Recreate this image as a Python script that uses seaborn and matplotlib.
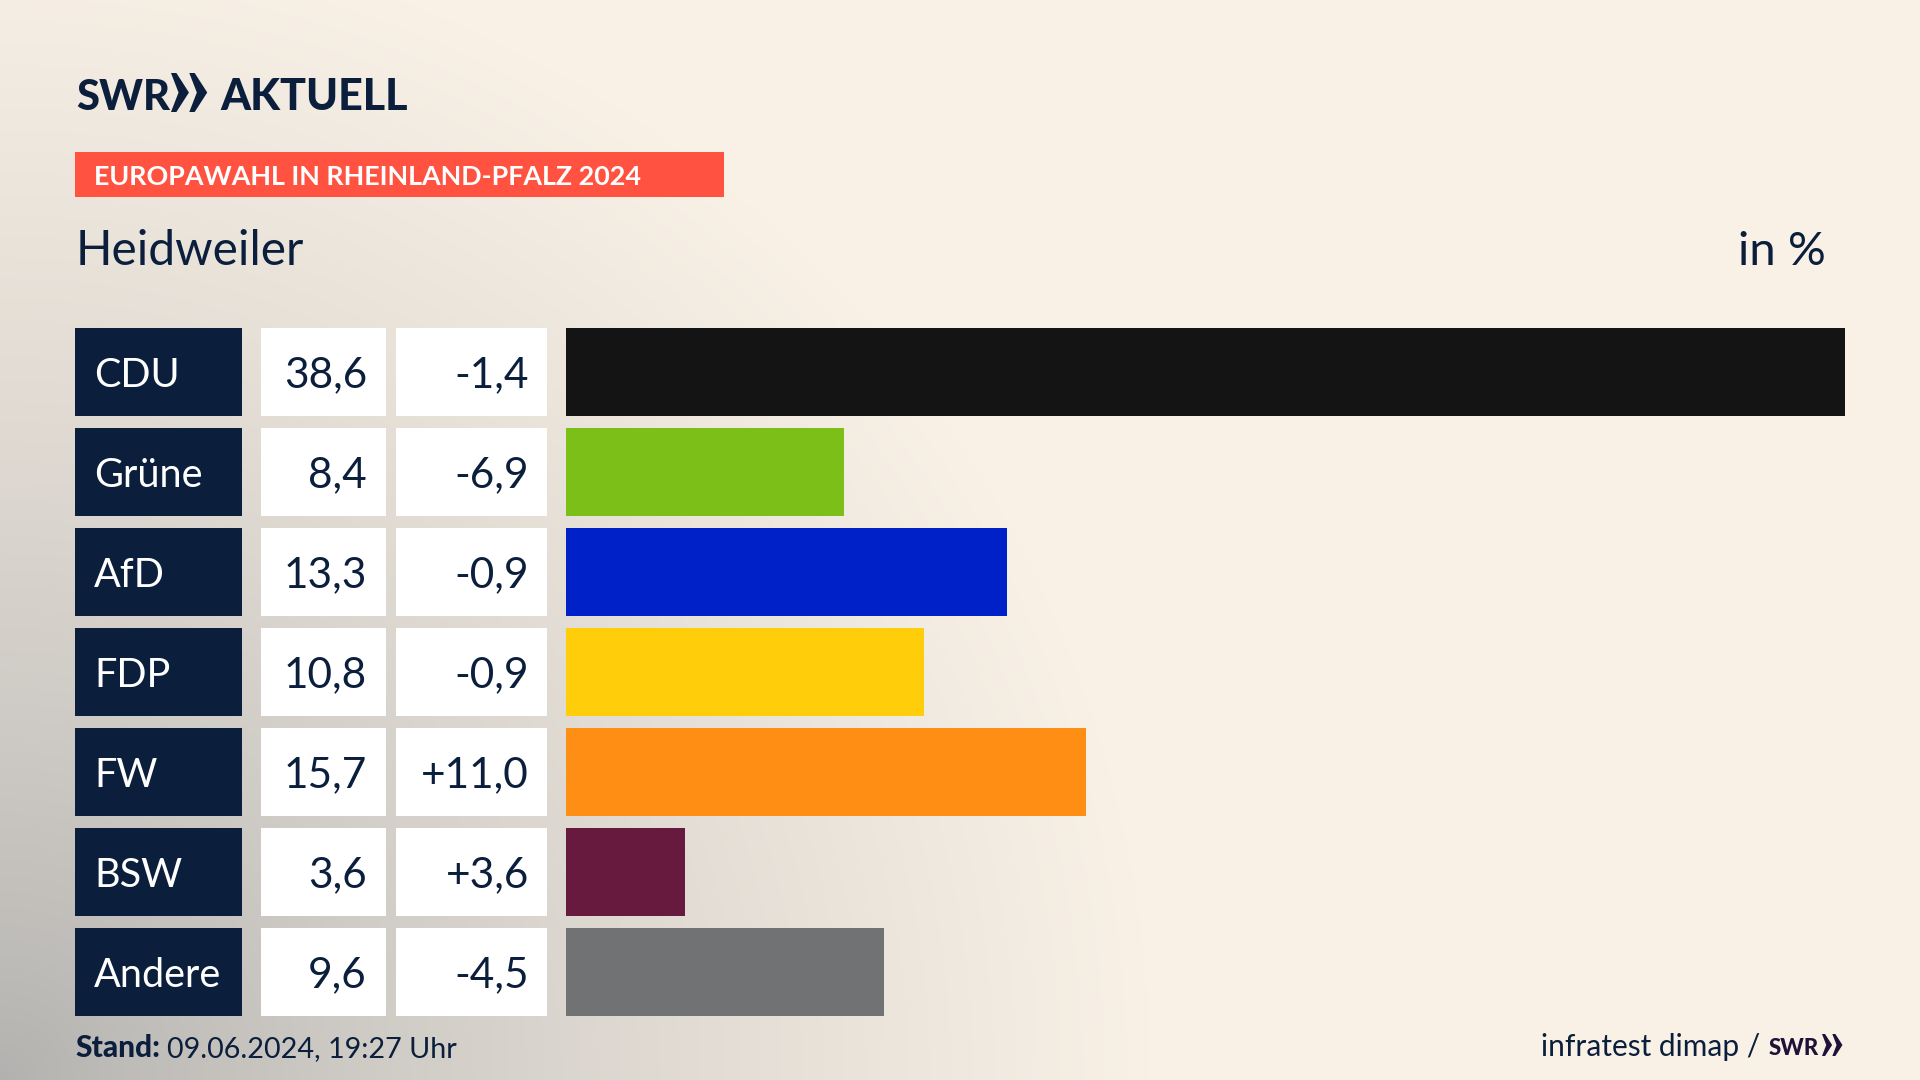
import numpy as np
import pandas as pd
import seaborn as sns
import matplotlib.pyplot as plt
from matplotlib.patches import Rectangle, Polygon

# chart data
parties = ['CDU', 'Grüne', 'AfD', 'FDP', 'FW', 'BSW', 'Andere']
shares = [38.6, 8.4, 13.3, 10.8, 15.7, 3.6, 9.6]
changes = ['-1,4', '-6,9', '-0,9', '-0,9', '+11,0', '+3,6', '-4,5']
bar_colors = ['#141414', '#7CBF19', '#0020C8', '#FFCD0A', '#FF8F14', '#681A3E', '#707274']

NAVY = '#0B1F3D'
W, H = 1920, 1080

sns.set_theme(style='white')
plt.rcParams['font.family'] = ['Lato', 'Noto Sans', 'DejaVu Sans']

fig = plt.figure(figsize=(19.2, 10.8), dpi=100)

# full figure layer in pixel coordinates, for the background and the table cells
bg = fig.add_axes([0, 0, 1, 1])
bg.set_xlim(0, W)
bg.set_ylim(H, 0)
bg.axis('off')

# soft grey glow from the lower left corner
xx, yy = np.meshgrid(np.linspace(0, W, 480), np.linspace(0, H, 270))
t = np.clip(np.sqrt((xx / 1150) ** 2 + ((H - yy) / 1150) ** 2), 0, 1) ** 0.8
cream = np.array([249, 241, 230]) / 255
grey = np.array([178, 177, 175]) / 255
img = grey + (cream - grey) * t[..., None]
bg.imshow(img, extent=[0, W, H, 0], aspect='auto', interpolation='bilinear')
bg.set_xlim(0, W)
bg.set_ylim(H, 0)


def chevrons(x0, top, h, color):
    # the two arrow heads of the logo
    w = h * 0.46
    for x in [x0, x0 + w * 1.02]:
        bg.add_patch(Polygon([(x, top), (x + w * 0.3, top), (x + w, top + h / 2),
                              (x + w * 0.3, top + h), (x, top + h),
                              (x + w * 0.42, top + h / 2)], color=color, lw=0))


# header
bg.text(76, 110, 'SWR', weight='black', fontsize=30, color=NAVY, va='baseline')
chevrons(171, 73, 39, NAVY)
bg.text(220, 110, 'AKTUELL', weight='black', fontsize=31, color=NAVY, va='baseline')

bg.add_patch(Rectangle((75, 152), 649, 45, color='#FF5240', lw=0))
bg.text(94, 185, 'EUROPAWAHL IN RHEINLAND-PFALZ 2024', weight='bold',
        fontsize=19.4, color='white', va='baseline')
bg.text(76, 265, 'Heidweiler', fontsize=34.4, color=NAVY, va='baseline')
bg.text(1826, 265, 'in %', fontsize=34, color=NAVY, va='baseline', ha='right')

# table cells
for i, (name, val, chg) in enumerate(zip(parties, shares, changes)):
    top = 328 + i * 100
    bg.add_patch(Rectangle((75, top), 167, 88, color=NAVY, lw=0))
    bg.add_patch(Rectangle((261, top), 125, 88, color='white', lw=0))
    bg.add_patch(Rectangle((396, top), 151, 88, color='white', lw=0))
    base = top + 59
    bg.text(94, base, name, fontsize=28.5, color='white', va='baseline')
    bg.text(367, base, f'{val:.1f}'.replace('.', ','), fontsize=30.5, color=NAVY, va='baseline', ha='right')
    bg.text(529, base, chg, fontsize=30.5, color=NAVY, va='baseline', ha='right')

# bars
ax = fig.add_axes([566 / W, 1 - 1022 / H, (1845 - 566) / W, 700 / H])
ax.patch.set_alpha(0)
df = pd.DataFrame({'party': parties, 'share': shares})
sns.barplot(data=df, y='party', x='share', hue='party', palette=bar_colors, dodge=False,
            width=0.88, saturation=1, legend=False, linewidth=0, ax=ax)
ax.set_xlim(0, 38.6)
ax.set_ylim(6.5, -0.5)
ax.axis('off')

# footer
bg.text(75, 1057, 'Stand:', fontsize=21.5, weight='black', color=NAVY, va='baseline')
bg.text(167, 1057, '09.06.2024, 19:27 Uhr', fontsize=20.7, color=NAVY, va='baseline')
bg.text(1760, 1056, 'infratest dimap /', fontsize=21.5, color=NAVY, va='baseline', ha='right')
bg.text(1769, 1055, 'SWR', weight='black', fontsize=16, color='#1E1238', va='baseline')
chevrons(1822, 1034, 22, '#1E1238')

fig.savefig('out.png', dpi=100)
